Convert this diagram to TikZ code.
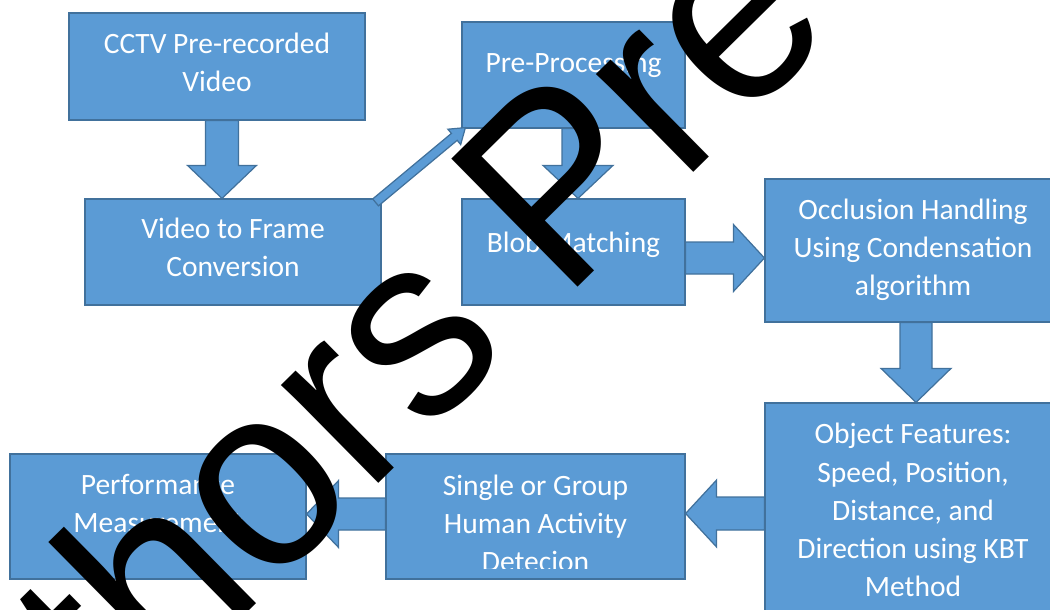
\documentclass[tikz,border=0pt]{standalone}
\usepackage{fontspec}
\setmainfont{Carlito}
\newfontfamily\markfont{Liberation Sans}
\usetikzlibrary{calc}

\definecolor{boxblue}{RGB}{91,155,213}
\definecolor{boxedge}{RGB}{65,113,156}

\tikzset{
    stagebox/.style={draw=boxedge, fill=boxblue, line width=0.7pt, inner sep=0pt},
    stagetext/.style={text=white, align=center, anchor=base, inner sep=0pt,
        font=\fontsize{16.8}{21.7}\selectfont},
    blockarrow/.style={draw=boxedge, fill=boxblue, line width=0.7pt, line join=miter}
}

% block arrow: from, to, half shaft, half head, head length
\newcommand{\blockarrow}[5]{%
    \coordinate (hb) at ($(#2)!#5!(#1)$);
    \draw[blockarrow] ($(#1)!#3!90:(#2)$) -- ($(hb)!#3!90:(#2)$) -- ($(hb)!#4!90:(#2)$)
        -- (#2) -- ($(hb)!#4!-90:(#2)$) -- ($(hb)!#3!-90:(#2)$) -- ($(#1)!#3!-90:(#2)$) -- cycle;
}

\begin{document}
\begin{tikzpicture}[x=0.02cm, y=-0.02cm]
    \useasboundingbox (0,0) rectangle (1050,609);
    \clip (0,0) rectangle (1050,609);

    % Boxes
    \node[stagebox, minimum width=5.92cm, minimum height=2.14cm] (cctv) at (217,66.5) {};
    \node[stagebox, minimum width=5.92cm, minimum height=2.12cm] (frames) at (233,252) {};
    \node[stagebox, minimum width=4.46cm, minimum height=2.12cm] (preproc) at (573.5,75) {};
    \node[stagebox, minimum width=4.46cm, minimum height=2.12cm] (blob) at (573.5,252) {};
    \node[stagebox, minimum width=5.92cm, minimum height=2.86cm] (occl) at (913,250.5) {};
    \node[stagebox, minimum width=5.92cm, minimum height=4.44cm] (feat) at (913,514) {};
    \node[stagebox, minimum width=5.98cm, minimum height=2.5cm] (detect) at (535.5,516.5) {};
    \node[stagebox, minimum width=5.92cm, minimum height=2.5cm] (perf) at (158,516.5) {};

    % Arrow ends
    \coordinate (a1s) at (222,0 |- cctv.south);
    \coordinate (a1e) at (222,0 |- frames.north);
    \coordinate (a3s) at (578,0 |- preproc.south);
    \coordinate (a3e) at (578,0 |- blob.north);
    \coordinate (a4s) at (blob.east |- 0,258);
    \coordinate (a4e) at (occl.west |- 0,258);
    \coordinate (a5s) at (916,0 |- occl.south);
    \coordinate (a5e) at (916,0 |- feat.north);
    \coordinate (a6s) at (feat.west |- 0,513.5);
    \coordinate (a6e) at (detect.east |- 0,513.5);
    \coordinate (a7s) at (detect.west |- 0,514);
    \coordinate (a7e) at (perf.east |- 0,514);
    \coordinate (a2s) at ($(frames.north east)+(-6,4)$);
    \coordinate (a2e) at ($(preproc.south west)+(4,-1)$);

    % Arrows
    \blockarrow{a1s}{a1e}{0.33cm}{0.69cm}{0.66cm}
    \blockarrow{a3s}{a3e}{0.32cm}{0.70cm}{0.66cm}
    \blockarrow{a4s}{a4e}{0.32cm}{0.67cm}{0.62cm}
    \blockarrow{a5s}{a5e}{0.32cm}{0.70cm}{0.68cm}
    \blockarrow{a6s}{a6e}{0.33cm}{0.67cm}{0.62cm}
    \blockarrow{a7s}{a7e}{0.32cm}{0.67cm}{0.64cm}
    \blockarrow{a2s}{a2e}{0.09cm}{0.2cm}{0.29cm}

    % Texts (base = last line)
    \node[stagetext] (cctv-txt) at ($(cctv.north)+(0,79)$) {CCTV Pre-recorded\\Video};
    \node[stagetext] (frames-txt) at ($(frames.north)+(0,78)$) {Video to Frame\\Conversion};
    \node[stagetext] (preproc-txt) at ($(preproc.north)+(0,51)$) {Pre-Processing};
    \node[stagetext] (blob-txt) at ($(blob.north)+(0,54)$) {Blob Matching};
    \node[stagetext] (occl-txt) at ($(occl.north)+(0,117)$) {Occlusion Handling\\Using Condensation\\algorithm};
    \node[stagetext] (feat-txt) at ($(feat.north)+(0,194)$) {Object Features:\\Speed, Position,\\Distance, and\\Direction using KBT\\Method};
    \node[stagetext] (perf-txt) at ($(perf.north)+(0,79)$) {Performance\\Measurement};
    \begin{scope}
        \clip (detect.north west) rectangle (detect.east |- 0,568);
        \node[stagetext] (detect-txt) at ($(detect.north)+(0,118)$) {Single or Group\\Human Activity\\Detecion};
    \end{scope}

    % Watermark
    \node[anchor=base west, inner sep=0pt, rotate=44.6, yscale=1.05, text=black,
        font=\markfont\fontsize{141.7}{150}\selectfont] (mark) at (-97,952) {Authors Pre};
\end{tikzpicture}
\end{document}
